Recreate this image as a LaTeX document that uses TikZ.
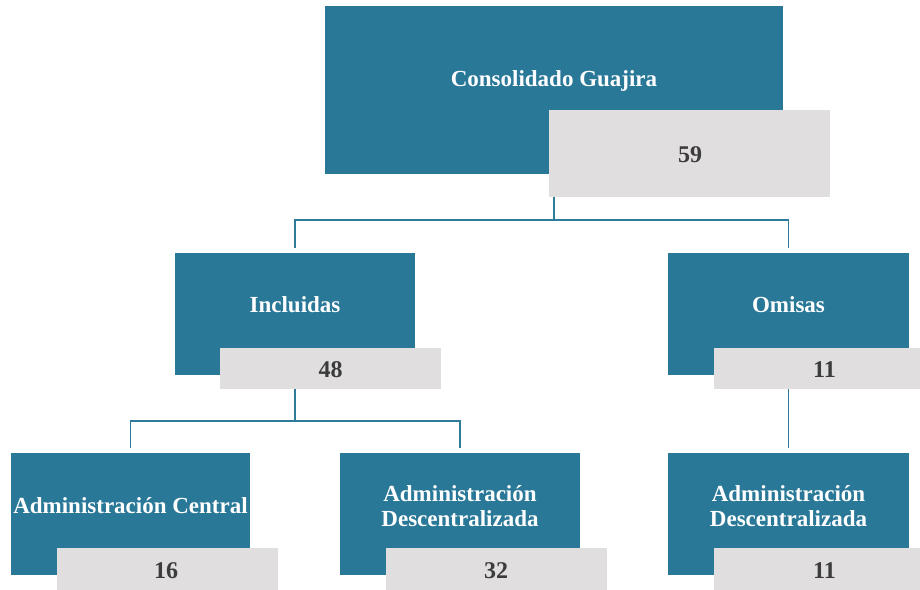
\documentclass[tikz,border=0pt]{standalone}
\usepackage{fontspec}
\setmainfont{Liberation Serif}
\definecolor{boxblue}{HTML}{2A7898}
\definecolor{boxgray}{HTML}{E0DEDF}
\definecolor{numgray}{HTML}{3C3C3C}
\definecolor{linkblue}{HTML}{2E7B9B}
\tikzset{
  bluebox/.style={fill=boxblue, draw=none, inner sep=0pt},
  graybox/.style={fill=boxgray, draw=none, inner sep=0pt},
  numtext/.style={text=numgray, inner sep=0pt,
    font=\fontsize{24}{28}\selectfont\bfseries},
  wtext/.style={text=white, align=center, inner sep=0pt,
    font=\fontsize{23}{25}\selectfont\bfseries},
  link/.style={draw=linkblue, line width=1.3pt},
}
\begin{document}
\begin{tikzpicture}[x=1pt,y=-1pt]
\useasboundingbox (0,0) rectangle (920,589);
% level 0
\node[bluebox, minimum width=458pt, minimum height=168pt] (top) at (554,90) {};
% level 1
\node[bluebox, minimum width=240pt, minimum height=122pt] (inc) at (295,314) {};
\node[bluebox, minimum width=241pt, minimum height=122pt] (omi) at (788.5,314) {};
% level 2
\node[bluebox, minimum width=239pt, minimum height=122pt] (adc) at (130.5,514) {};
\node[bluebox, minimum width=240pt, minimum height=122pt] (add) at (460,514) {};
\node[bluebox, minimum width=241pt, minimum height=122pt] (omd) at (788.5,514) {};
% connectors
\coordinate (j0) at (554,220);
\coordinate (j1) at (295,421);
\draw[link, shorten >=5pt] (top.south) -- (j0) -| (inc.north);
\draw[link, shorten >=5pt] (j0) -| (omi.north);
\draw[link, shorten >=5pt] (inc.south) -- (j1) -| (adc.north);
\draw[link, shorten >=5pt] (j1) -| (add.north);
\draw[link, shorten >=5pt] (omi.south) -- (omd.north);
% gray number boxes
\node[graybox, minimum width=281pt, minimum height=87pt] (g0) at (689.5,153.5) {};
\node[graybox, minimum width=221pt, minimum height=41pt] (g1) at (330.5,368.5) {};
\node[graybox, minimum width=221pt, minimum height=41pt] (g2) at (824.5,368.5) {};
\node[graybox, minimum width=221pt, minimum height=45pt] (g3) at (167,570.5) {};
\node[graybox, minimum width=221pt, minimum height=45pt] (g4) at (496,570.5) {};
\node[graybox, minimum width=221pt, minimum height=45pt] (g5) at (824.5,570.5) {};
\node[numtext] (n0) at (690,154.5) {59};
\node[numtext] (n1) at (330.5,369.5) {48};
\node[numtext] (n2) at (824.5,369.5) {11};
\node[numtext] (n3) at (166,571) {16};
\node[numtext] (n4) at (496,571) {32};
\node[numtext] (n5) at (824.5,571) {11};
% labels
\node[wtext] (t0) at (554,81) {Consolidado Guajira};
\node[wtext] (t1) at (295,305) {Incluidas};
\node[wtext] (t2) at (788.5,305) {Omisas};
\node[wtext] (t3) at (130.5,506) {Administración Central};
\node[wtext] (t4) at (460,506) {Administración\\Descentralizada};
\node[wtext] (t5) at (788.5,506) {Administración\\Descentralizada};
\end{tikzpicture}
\end{document}
